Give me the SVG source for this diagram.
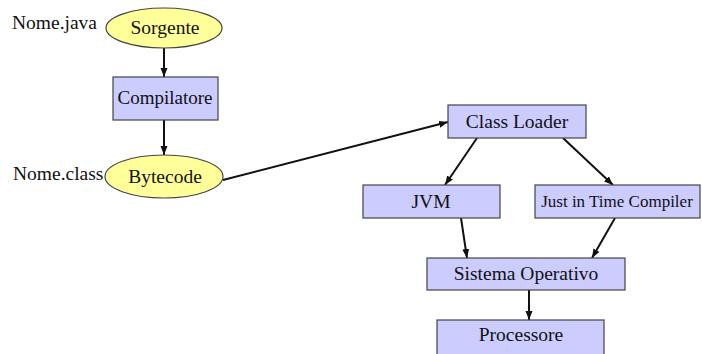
<svg xmlns="http://www.w3.org/2000/svg" width="702" height="354" viewBox="0 0 702 354">
<defs>
<style>
text{font-family:"Liberation Serif","Times New Roman",serif;font-size:19.5px;fill:#111}
.c{text-anchor:middle}
.ell{fill:#ffff99;stroke:#444;stroke-width:1.2}
.box{fill:#ccccff;stroke:#444;stroke-width:1.2}
.edge{stroke:#111;stroke-width:2;fill:none;marker-end:url(#ah)}
</style>
<marker id="ah" markerUnits="userSpaceOnUse" markerWidth="10" markerHeight="8" refX="9" refY="3.5" orient="auto">
<path d="M0,0 L9,3.5 L0,7 Z" fill="#111"/>
</marker>
</defs>
<rect width="702" height="354" fill="#fff"/>
<g id="connectors">
<line class="edge" x1="164" y1="48" x2="164" y2="77"/>
<line class="edge" x1="164" y1="120" x2="164" y2="155"/>
<line class="edge" x1="223" y1="180" x2="448" y2="122"/>
<line class="edge" x1="477" y1="138" x2="445" y2="185"/>
<line class="edge" x1="563" y1="138" x2="613" y2="185"/>
<line class="edge" x1="461" y1="218" x2="467" y2="258"/>
<line class="edge" x1="615" y1="218" x2="592" y2="258"/>
<line class="edge" x1="529" y1="290" x2="529" y2="320"/>
</g>
<g id="label-java"><text x="12" y="29">Nome.java</text></g>
<g id="label-class"><text x="13" y="180">Nome.class</text></g>
<g id="sorgente"><ellipse class="ell" cx="164" cy="28" rx="58" ry="20"/><text class="c" x="165" y="34">Sorgente</text></g>
<g id="compilatore"><rect class="box" x="113" y="77" width="105" height="43"/><text class="c" x="165" y="104" style="font-size:19px">Compilatore</text></g>
<g id="bytecode"><ellipse class="ell" cx="164" cy="176.5" rx="59" ry="21.5"/><text class="c" x="165" y="183">Bytecode</text></g>
<g id="classloader"><rect class="box" x="448" y="105" width="138" height="33"/><text class="c" x="517" y="128">Class Loader</text></g>
<g id="jvm"><rect class="box" x="363" y="185" width="137" height="33"/><text class="c" x="431" y="208">JVM</text></g>
<g id="jit"><rect class="box" x="535" y="185" width="165" height="33"/><text class="c" x="617" y="207" style="font-size:17px">Just in Time Compiler</text></g>
<g id="sistema"><rect class="box" x="427" y="258" width="198" height="32"/><text class="c" x="526" y="280">Sistema Operativo</text></g>
<g id="processore"><rect class="box" x="437" y="320" width="167" height="40"/><text class="c" x="521" y="341">Processore</text></g>
</svg>
